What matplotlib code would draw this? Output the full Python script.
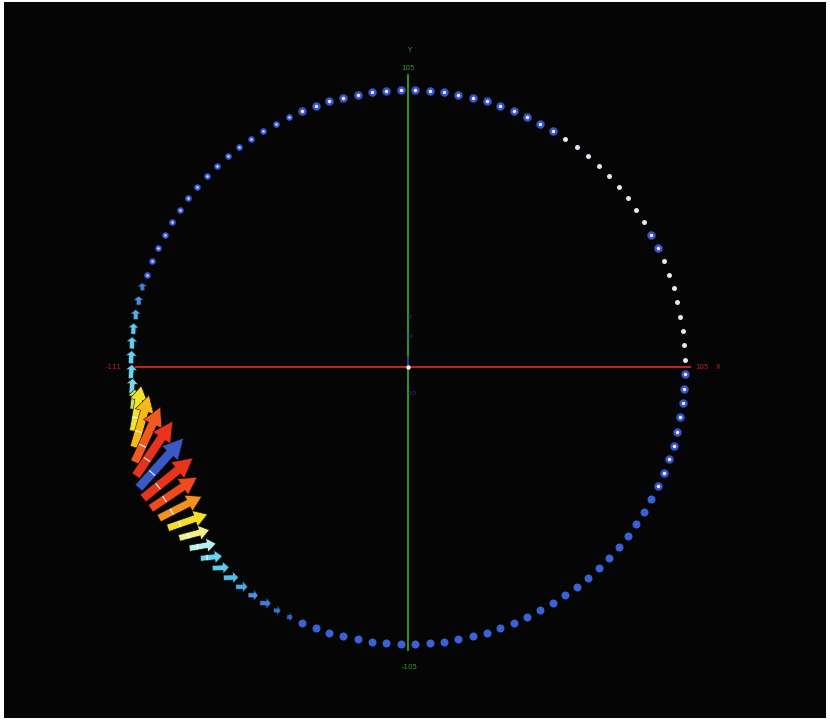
import numpy as np
import matplotlib.pyplot as plt

# Векторное поле на окружности радиуса R: узлы через 3 градуса
R = 105
theta = 1.5 + 3 * np.arange(120)

# Узлы, где вектор лежит в плоскости XY (рисуются стрелками)
arrow_theta = [163.5, 166.5, 169.5, 172.5, 175.5, 178.5, 181.5, 184.5, 187.5,
               190.5, 193.5, 196.5, 199.5, 202.5, 205.5, 208.5, 211.5, 214.5,
               217.5, 220.5, 223.5, 226.5, 229.5, 232.5, 235.5, 238.5, 241.5, 244.5]
arrow_len = [3.0, 3.4, 3.8, 4.2, 4.6, 5.0, 5.3, 5.7, 7.6,
             17.4, 20.5, 23.1, 25.0, 25.4, 24.3, 21.2, 18.2, 15.9,
             11.8, 10.2, 8.3, 6.4, 5.7, 4.5, 3.8, 4.2, 2.7, 2.3]
arrow_dir = [95, 92, 90, 88, 88, 86, 85, 84, 83,
             80, 74, 65, 56, 48, 39, 34, 27, 19,
             15, 10, 6, 3, 1, 0, -2, -3, -5, -6]
arrow_color = ['#4a78d8', '#4a90e0', '#50b0ea', '#58c8f0', '#5ccff0', '#60d2f0',
               '#66d4ee', '#7ad8e0', '#c8e070', '#f0e42a', '#f7b81c', '#f05a1e',
               '#e8321e', '#3a58c8', '#e8341e', '#ee4a1e', '#f5921e', '#f2de28',
               '#f0f08a', '#b8f0ee', '#6ad4ec', '#5ccbec', '#52bdea', '#48aae6',
               '#4296e2', '#3c80dc', '#3870d8', '#3464d4']

# Остальные узлы: вектор смотрит вдоль Z, рисуется точкой
dot_from = [247.5, 334.5, 1.5, 25.5, 31.5, 58.5, 115.5]
dot_to = [331.5, 358.5, 22.5, 28.5, 55.5, 112.5, 160.5]
dot_kind = ['solid', 'ring', 'white', 'ring', 'white', 'ring', 'ring_small']

# стиль точек: (цвет, размер px, цвет центра, размер центра px)
dot_style = {
    'solid': ('#3a62d8', 8.0, None, 0),
    'ring': ('#3550d0', 8.5, '#eef3ff', 3.5),
    'ring_small': ('#3a5ad8', 6.5, '#d0e0ff', 2.5),
    'white': ('#e2e8f2', 5.0, None, 0),
}

px = 2.638  # пикселей на единицу данных
pivot = 0.3  # доля длины стрелки от хвоста до узла


def pt2(size_px):
    return (size_px * 0.72) ** 2


fig = plt.figure(figsize=(8.3, 7.28), dpi=100, facecolor='white')
ax = fig.add_axes([4 / 830, 10 / 728, 822 / 830, 716 / 728])
ax.set_facecolor('#050505')
ax.set_xlim((4 - 408) / px, (826 - 408) / px)
ax.set_ylim((367 - 718) / px, (367 - 2) / px)
ax.set_xticks([])
ax.set_yticks([])
for s in ax.spines.values():
    s.set_visible(False)

# Оси X, Y и короткий отрезок Z
ax.plot([-103.5, 107], [0, 0], color='#c8201e', lw=1.4, zorder=1)
ax.plot([0, 0], [-107.3, 110.7], color='#2a9a2a', lw=1.4, zorder=1)
ax.plot([0, 0], [0, 3.8], color='#2a3ab0', lw=1.4, zorder=1.5)
ax.scatter([0], [0], s=pt2(3), color='white', zorder=2)

ax.text(-111.4, 0, '-111', color='#c02020', fontsize=5, ha='center', va='center')
ax.text(111.4, 0, '105', color='#c02020', fontsize=5, ha='center', va='center')
ax.text(117.5, 0, 'X', color='#c02020', fontsize=5, ha='center', va='center')
ax.text(0, 113.3, '105', color='#30a030', fontsize=5, ha='center', va='center')
ax.text(0.5, 120.2, 'Y', color='#30a030', fontsize=5, ha='center', va='center')
ax.text(0.5, -113.7, '-105', color='#30a030', fontsize=5, ha='center', va='center')
ax.text(0.8, 18.6, 'Z', color='#2a3ab0', fontsize=4.5, ha='center', va='center')
ax.text(0.4, 11.4, '10', color='#2a3ab0', fontsize=4.5, ha='center', va='center')
ax.text(1.5, -9.9, '-10', color='#2a3ab0', fontsize=4.5, ha='center', va='center')

# Точки
for a, b, kind in zip(dot_from, dot_to, dot_kind):
    t = np.deg2rad(theta[(theta >= a) & (theta <= b)])
    color, size, inner, inner_size = dot_style[kind]
    ax.scatter(R * np.cos(t), R * np.sin(t), s=pt2(size), color=color,
               linewidths=0, zorder=3)
    if inner:
        ax.scatter(R * np.cos(t), R * np.sin(t), s=pt2(inner_size), color=inner,
                   linewidths=0, zorder=3.5)

# Стрелки: узел окружности лежит на трети стрелки от хвоста
for i, (t, L, d, c) in enumerate(zip(arrow_theta, arrow_len, arrow_dir, arrow_color)):
    cx, cy = R * np.cos(np.deg2rad(t)), R * np.sin(np.deg2rad(t))
    dx, dy = L * np.cos(np.deg2rad(d)), L * np.sin(np.deg2rad(d))
    w = 1.5 + 0.08 * L
    ax.arrow(cx - pivot * dx, cy - pivot * dy, dx, dy, width=w, head_width=2.3 * w,
             head_length=0.28 * L + 0.6, length_includes_head=True,
             facecolor=c, edgecolor='#101010', lw=0.4, zorder=4 + i * 0.01)
    if L > 8:
        nx, ny = -np.sin(np.deg2rad(d)), np.cos(np.deg2rad(d))
        ax.plot([cx - nx * w * 0.35, cx + nx * w * 0.35],
                [cy - ny * w * 0.35, cy + ny * w * 0.35],
                color='white', lw=0.8, zorder=4.005 + i * 0.01)

fig.savefig('out.png', dpi=100, facecolor=fig.get_facecolor())
